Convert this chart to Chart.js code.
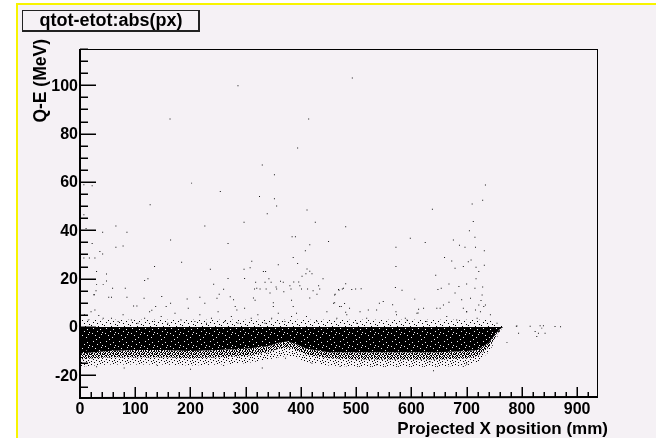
<!DOCTYPE html>
<html>
<head>
<meta charset="utf-8">
<script src="https://cdn.jsdelivr.net/npm/chart.js"></script>
<style>
  html, body { margin: 0; padding: 0; background: #ffffff; }
  #c { display: block; }
</style>
</head>
<body>
<canvas id="c" width="656" height="438"></canvas>
<script>
// -- Axis ranges and tick labels.
const xRange = [0, 936];
const yRange = [-29, 115];
const xTickLabels = [0, 100, 200, 300, 400, 500, 600, 700, 800, 900];
const yTickLabels = [-20, 0, 20, 40, 60, 80, 100];

// -- Dense band (the bulk of the entries): top edge, sparse upper fringe,
// -- solid bottom, dense and sparse bottom fringes.
const bandX      = [0, 25, 50, 100, 150, 200, 250, 300, 340, 360, 375, 390, 410, 450, 500, 550, 600, 650, 700, 720, 740, 750, 760, 766];
const bandTop    = [0, 0, 0, 0, 0, 0, 0, 0, 0, 0, 0, 0, 0, 0, 0, 0, 0, 0, 0, 0, 0, 0, 0, 0];
const bandUpper  = [3, 3, 3, 3, 3, 3, 3, 3, 3, 3, 3, 3, 3, 3, 3, 3, 3, 3, 3, 3, 3, 2, 1, 0];
const bandLow    = [-11, -10.5, -10, -9.5, -9.5, -10, -9.5, -9, -8, -6.5, -6, -7, -9, -10.5, -10.5, -10.5, -10.5, -10.5, -10, -9.5, -6.5, -3.5, -1, 0];
const fringeMid  = [-13.5, -13, -12.5, -12.5, -12.5, -13, -12.5, -12, -10.5, -9, -8.5, -9.5, -11.5, -13, -13.5, -13.5, -13.5, -13.5, -13, -12, -8.5, -5, -1.5, 0];
const fringeLow  = [-16.5, -16, -15.5, -15.5, -15.5, -16, -15.5, -15, -13.5, -12.5, -12, -12.5, -14.5, -16, -16.5, -16.5, -16.5, -16.5, -16, -14.5, -10.5, -6.5, -2, 0];

// -- Isolated entries, x in mm and Q-E in MeV.
const outX = [
  286, 493, 163, 414, 394, 330, 352, 202, 7, 22, 254, 325, 352, 356, 127, 411, 339, 7, 65, 226,
  297, 426, 481, 41, 85, 11, 384, 390, 164, 22, 268, 450, 416, 65, 78, 572, 36, 41, 408, 386,
  7, 17, 27, 184, 311, 394, 135, 359, 572, 30, 48, 236, 297, 308, 332, 336, 411, 416, 420, 123,
  117, 268, 298, 342, 440, 48, 318, 335, 346, 368, 387, 396, 481, 242, 30, 42, 59, 82, 260, 316,
  326, 337, 356, 382, 401, 412, 434, 468, 475, 492, 499, 509, 571, 583,
  29, 25, 26, 52, 57, 85, 97, 103, 116, 148, 156, 164, 130, 137, 194, 217, 226, 252, 248, 272,
  278, 281, 284, 320, 314, 317, 344, 350, 350, 355, 363, 369, 380, 383, 386, 398, 402, 409, 416, 422,
  429, 432, 462, 469, 477, 479, 461, 473,
  734, 729, 710, 638, 712, 705, 715, 598, 625, 676, 687, 697, 716, 732, 660, 673, 708, 703, 679, 694,
  717, 722, 732, 644, 717, 654, 668, 648, 686, 700, 715, 729, 606, 549, 542, 566, 668, 679, 691, 707,
  728, 726, 461, 459, 470, 481, 488, 507, 522, 572, 613, 622, 612, 589, 652, 658, 694, 700, 716, 722,
  734, 725,
  790, 815, 833, 839, 860, 870, 791, 794, 773, 824, 827, 836, 842, 830,
  20, 27, 34, 42, 8, 15, 57, 69, 78, 93, 105, 117, 126, 135, 147, 159, 172, 183, 196, 208,
  217, 229, 238, 250, 262, 274, 286, 298, 310, 322, 335, 347, 359, 371, 383,
  392, 410, 429, 447, 465, 483, 501, 519, 537, 555, 573, 592, 610, 628, 646, 664, 682, 700, 719, 731,
  743, 755,
  471, 537, 634, 694, 700, 640, 30, 80, 140, 200, 260, 330, 372, 420
];
const outY = [
  99.8, 103, 86, 86, 74, 67, 63, 59.5, 58.8, 58.4, 56, 54, 53, 50, 50.6, 48.4, 46.8, 46.4, 41.8, 41.8,
  43.3, 43.3, 41.4, 39.2, 39.2, 40.7, 37.3, 37.3, 36, 34.5, 34.5, 35.3, 34, 33, 33.5, 33, 31.2, 30.2, 31.5, 28.7,
  28.5, 28.5, 28.5, 26.8, 27.2, 26.2, 25, 25.7, 25, 22.9, 21.9, 23.9, 23.9, 24.5, 22.9, 22.9, 24, 23, 22, 19.9,
  19.2, 20, 20, 19.9, 19.9, 19, 18.5, 18.5, 18.5, 18.5, 18.6, 18.6, 17.9, 17.7, 17.5, 17.5, 16, 16, 15.6, 15.7,
  15.7, 15.7, 15.7, 15.7, 15.7, 15.7, 15.7, 15.5, 15.7, 15.5, 15.7, 15.8, 16.3, 15.2,
  15, 13.3, 13.3, 12.3, 12.3, 12.3, 8.7, 8.7, 11.9, 12.6, 8.4, 9.8, 6.9, 8.4, 11.6, 12.3, 9.8, 13.5, 11.9, 12.5,
  11.2, 8.4, 7, 16, 12, 11, 14, 10, 8.4, 16.5, 18.9, 14.6, 17, 11, 8.4, 17, 21, 22, 12, 15,
  13.5, 17, 13.5, 15.2, 16, 9.7, 10, 8.4,
  58.7, 52.4, 50.9, 48.7, 43.6, 39.8, 37.1, 36.7, 34.9, 36, 33.8, 33, 33, 31.5, 28.7, 27.3, 27.7, 27, 24.3, 25,
  24.7, 22.9, 25.5, 21.4, 19.9, 16, 17.8, 15.5, 16.7, 17.8, 16, 16.5, 11.5, 10.5, 9.8, 9.2, 10.2, 14, 11.2, 11.9,
  13.2, 10.9, 13.2, 9.8, 8.4, 6.1, 7.7, 6.3, 7, 6.3, 7.3, 7.7, 5.8, 3.6, 7.7, 9.1, 7.7, 6.3, 7, 9.1,
  9.1, 6.3,
  0.3, 0.3, 0.5, 0.5, 0.2, 0.1, 0.4, -2.6, -6.5, -1.9, -4, -0.5, -2.6, -2.6,
  6.3, 7, 4.7, 3.6, 5, 2.9, 3.6, 2.2, 5, 2.9, 1.5, 3.6, 6.3, 2.2, 4.3, 1.5, 5.7, 2.9, 7.7, 2.2,
  5, 1.5, 3.6, 6.3, 2.2, 4.3, 1.5, 7.7, 3.6, 5, 1.5, 3.6, 5.7, 2.2, 4.3,
  5.7, 4.3, 2.2, 6.3, 3.6, 5, 1.5, 3.6, 7, 2.2, 5, 2.9, 5.7, 2.2, 7.7, 4.3, 2.9, 6.3, 3.6, 8.4,
  5, 1.5,
  -16.4, -15.7, -14.4, -16.4, -15.3, -18.1, -16.5, -17, -16, -17.5, -16, -17, -13, -15
];

const FONT = '"Liberation Sans", Arial, Helvetica, sans-serif';
const BG = '#f5f1f5';

const toXY = (xs, ys) => xs.map((x, i) => ({x: x, y: ys[i]}));

// -- Speckle textures for the dense band ('#' = ink, '.' = paper).
const make_pattern = (rows) => {
  const cv = document.createElement('canvas');
  cv.width = rows[0].length;
  cv.height = rows.length;
  const c = cv.getContext('2d');
  rows.forEach((row, j) => {
    for (let i = 0; i < row.length; i++) {
      if (row[i] === '#') { c.fillStyle = '#000'; c.fillRect(i, j, 1, 1); }
    }
  });
  return c.createPattern(cv, 'repeat');
};

const corePattern = make_pattern([
  '#############', '#####.#######', '#############', '##.##########', '#########.###',
  '#############', '######.######', '###########.#', '#.###########', '##########.##',
  '####.########', '#############', '########.####'
]);
const densePattern = make_pattern([
  '#.##.#..#.##.', '.#..##.#.#..#', '##.#..#.##.#.', '#..#.##..#.##', '.##.#..##.#..',
  '#.#..#.#..##.', '.#.##.#.#.#.#', '##..#..##..#.', '#.#.##.#..#.#', '.#.#..#.##.#.',
  '#..##.#.#.#..', '.##.#.#..#.##', '#.#..##.#..#.'
]);
const sparsePattern = make_pattern([
  '#.....#......', '...#......#..', '......#.#....', '.#.........#.', '....#..#.....',
  '#.........#..', '...#.#.......', '.......#...#.', '..#..........', '.....#....#..',
  '#.......#....', '...#.......#.', '.........#...'
]);
const faintPattern = make_pattern([
  '#............', '.......#.....', '...#.........', '..........#..', '.....#.......',
  '.#...........', '........#....', '...........#.', '....#........', '.........#...',
  '..#..........', '......#......', '...........#.'
]);

// -- ROOT-style canvas: pad, frame, inward ticks, labels and the title box.
const rootFrame = {
  id: 'rootFrame',
  beforeDraw(chart) {
    const {ctx, width, height} = chart;
    ctx.save();
    ctx.fillStyle = '#ffffff';
    ctx.fillRect(0, 0, width, height);
    ctx.fillStyle = BG;
    ctx.fillRect(16, 4, width - 16, height - 4);
    ctx.fillStyle = '#f8f400';
    ctx.fillRect(16, 3, 2, height - 3);
    ctx.fillRect(16, 3, width - 16, 2);
    ctx.restore();
  },
  afterDraw(chart) {
    const {ctx, chartArea: a} = chart;
    const xs = chart.scales.x, ys = chart.scales.y;
    ctx.save();

    // -- Frame.
    ctx.strokeStyle = '#000';
    ctx.lineWidth = 1;
    ctx.strokeRect(a.left + 0.5, a.top + 0.5, a.right - a.left, a.bottom - a.top);
    ctx.lineWidth = 2;
    ctx.beginPath();
    ctx.moveTo(a.left, a.top); ctx.lineTo(a.left, a.bottom + 1);
    ctx.lineTo(a.right + 1, a.bottom);
    ctx.stroke();

    // -- Y ticks: major every 20, minor every 5, pointing into the frame.
    ctx.lineWidth = 1.5;
    ctx.beginPath();
    for (let v = -25; v <= yRange[1]; v += 5) {
      const py = Math.round(ys.getPixelForValue(v)) + 0.25;
      const len = (v % 20 === 0) ? 16 : 8;
      ctx.moveTo(a.left, py); ctx.lineTo(a.left + len, py);
    }
    // -- X ticks: major every 100, minor every 20.
    for (let v = 0; v <= xRange[1]; v += 20) {
      const px = Math.round(xs.getPixelForValue(v)) + 0.25;
      const len = (v % 100 === 0) ? 10 : 5;
      ctx.moveTo(px, a.bottom); ctx.lineTo(px, a.bottom - len);
    }
    ctx.stroke();

    // -- Tick labels.
    ctx.fillStyle = '#000';
    ctx.font = 'bold 16px ' + FONT;
    ctx.textAlign = 'right';
    ctx.textBaseline = 'middle';
    yTickLabels.forEach(v => ctx.fillText(String(v), a.left - 2, ys.getPixelForValue(v) + 1));
    ctx.textAlign = 'center';
    xTickLabels.forEach(v => ctx.fillText(String(v), xs.getPixelForValue(v), 410));

    // -- Axis titles.
    ctx.font = 'bold 17px ' + FONT;
    ctx.textAlign = 'right';
    ctx.textBaseline = 'alphabetic';
    ctx.fillText('Projected X position (mm)', 608, 434);
    ctx.save();
    ctx.translate(46, 39);
    ctx.rotate(-Math.PI / 2);
    ctx.font = 'bold 17.5px ' + FONT;
    ctx.fillText('Q-E (MeV)', 0, 0);
    ctx.restore();

    // -- Title box.
    ctx.fillStyle = BG;
    ctx.fillRect(22, 10, 177, 21);
    ctx.fillStyle = '#222';
    ctx.fillRect(198, 10, 2, 22);
    ctx.fillRect(22, 30, 178, 2);
    ctx.strokeStyle = '#222';
    ctx.lineWidth = 1;
    ctx.strokeRect(22.5, 10.5, 176, 20);
    ctx.fillStyle = '#000';
    ctx.font = 'bold 18px ' + FONT;
    ctx.textAlign = 'center';
    ctx.textBaseline = 'middle';
    ctx.fillText('qtot-etot:abs(px)', 111, 21);
    ctx.restore();
  }
};

const areaStyle = {type: 'line', showLine: true, pointRadius: 0, borderWidth: 0, tension: 0};

new Chart(document.getElementById('c'), {
  type: 'scatter',
  data: {
    datasets: [
      {...areaStyle, label: 'top', data: toXY(bandX, bandTop), fill: false, order: 6},
      {...areaStyle, label: 'upper fringe', data: toXY(bandX, bandUpper), fill: 0,
        backgroundColor: faintPattern, order: 5},
      {...areaStyle, label: 'core', data: toXY(bandX, bandLow), fill: 0,
        backgroundColor: corePattern, order: 4},
      {...areaStyle, label: 'dense fringe', data: toXY(bandX, fringeMid), fill: 2,
        backgroundColor: densePattern, order: 3},
      {...areaStyle, label: 'sparse fringe', data: toXY(bandX, fringeLow), fill: 3,
        backgroundColor: sparsePattern, order: 2},
      {label: 'entries', data: toXY(outX, outY), pointStyle: 'rect', pointRadius: 0.7,
        pointBorderWidth: 0, backgroundColor: '#111', borderColor: '#111', order: 0}
    ]
  },
  options: {
    responsive: false,
    animation: false,
    events: [],
    layout: {padding: {left: 80, top: 49, right: 59, bottom: 41}},
    scales: {
      x: {type: 'linear', min: xRange[0], max: xRange[1], display: false},
      y: {type: 'linear', min: yRange[0], max: yRange[1], display: false}
    },
    plugins: {
      legend: {display: false},
      tooltip: {enabled: false},
      title: {display: false}
    }
  },
  plugins: [rootFrame]
});
</script>
</body>
</html>
